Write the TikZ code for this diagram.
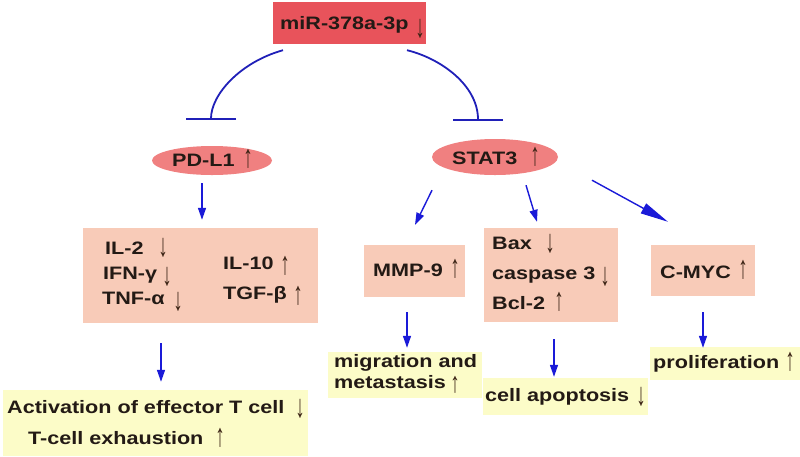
\documentclass[tikz,border=0pt]{standalone}
\usepackage{fontspec}
\setmainfont{Liberation Sans}[FakeStretch=1.2]
\newfontfamily\arrfont{Liberation Sans}
\usetikzlibrary{arrows.meta,shapes.geometric}
\definecolor{mirred}{HTML}{E8535B}
\definecolor{ellred}{HTML}{F08080}
\definecolor{peach}{HTML}{F8CBB8}
\definecolor{paleyel}{HTML}{FCFCC8}
\definecolor{arrblue}{HTML}{1A1AD8}
\definecolor{inhblue}{HTML}{2020B8}
\definecolor{txt}{HTML}{231A15}
\definecolor{glyph}{HTML}{3B2314}
\newcommand{\dn}{\scalebox{1.05}[1.8]{\arrfont\bfseries ↓}}
\newcommand{\up}{\scalebox{1.05}[1.8]{\arrfont\bfseries ↑}}
\newcommand{\upsm}{\scalebox{1.05}[1.6]{\arrfont\bfseries ↑}}
\tikzset{
  box/.style={rectangle, inner sep=0pt, draw=none},
  pinkbox/.style={box, fill=peach},
  yelbox/.style={box, fill=paleyel},
  oval/.style={ellipse, fill=ellred, inner sep=0pt, draw=none},
  lbl/.style={anchor=base west, inner sep=0pt, text=txt},
  updn/.style={anchor=center, inner sep=0pt, text=glyph},
  arr/.style={draw=arrblue, line width=1.4pt, -{Triangle[length=12pt,width=8pt]}},
  inh/.style={draw=inhblue, line width=1.8pt, -{Bar[width=50pt]}},
}
\begin{document}
\begin{tikzpicture}[x=1pt,y=-1pt,font=\fontsize{18}{20}\selectfont\bfseries]
\useasboundingbox (0,0) rectangle (800,456);
% top
\node[box, fill=mirred, minimum width=153pt, minimum height=42pt] (mir) at (349.5,23) {};
\node[lbl] (mirt) at (280,29.5) {miR-378a-3p};
\node[updn] (mira) at (420,28.5) {\dn};
% ellipses
\node[oval, minimum width=120pt, minimum height=29pt] (pdl1) at (212,160.5) {};
\node[lbl] (pdl1t) at (172,166) {PD-L1};
\node[updn] (pdl1a) at (248,159) {\up};
\node[oval, minimum width=126pt, minimum height=36pt] (stat) at (495,157) {};
\node[lbl] (statt) at (452,164) {STAT3};
\node[updn] (stata) at (535,157) {\up};
% pink boxes
\node[pinkbox, minimum width=235pt, minimum height=95pt] (cyt) at (200.5,275.5) {};
\node[lbl] (il2) at (105,254.5) {IL-2};
\node[updn] (il2a) at (163,248) {\dn};
\node[lbl] (ifn) at (103,279.5) {IFN-γ};
\node[updn] (ifna) at (167,277) {\dn};
\node[lbl] (tnf) at (102,304.5) {TNF-α};
\node[updn] (tnfa) at (178,302) {\dn};
\node[lbl] (il10) at (223,269.5) {IL-10};
\node[updn] (il10a) at (285,266) {\up};
\node[lbl] (tgf) at (223,299.5) {TGF-β};
\node[updn] (tgfa) at (298,296) {\up};

\node[pinkbox, minimum width=101pt, minimum height=52pt] (mmp) at (414.5,271) {};
\node[lbl] (mmpt) at (373,276.5) {MMP-9};
\node[updn] (mmpa) at (455,269) {\up};

\node[pinkbox, minimum width=134pt, minimum height=94pt] (bax) at (551,275) {};
\node[lbl] (baxt) at (492,249.5) {Bax};
\node[updn] (baxa) at (550,244) {\dn};
\node[lbl] (cas) at (492,279.5) {caspase 3};
\node[updn] (casa) at (605,277) {\dn};
\node[lbl] (bcl) at (492,309.5) {Bcl-2};
\node[updn] (bcla) at (559,302) {\up};

\node[pinkbox, minimum width=104pt, minimum height=51pt] (cmyc) at (703,270.5) {};
\node[lbl] (cmyct) at (660,278.5) {C-MYC};
\node[updn] (cmyca) at (743,270) {\up};
% yellow boxes
\node[yelbox, minimum width=154pt, minimum height=46pt] (mig) at (405,375) {};
\node[lbl] (migt1) at (334,367.5) {migration and};
\node[lbl] (migt2) at (334,388.5) {metastasis};
\node[updn] (miga) at (455,385) {\upsm};

\node[yelbox, minimum width=165pt, minimum height=37pt] (apop) at (565.5,396.5) {};
\node[lbl] (apopt) at (485,401.5) {cell apoptosis};
\node[updn] (apopa) at (641,397) {\dn};

\node[yelbox, minimum width=150pt, minimum height=33pt] (prol) at (725,363.5) {};
\node[lbl] (prolt) at (653,368.5) {proliferation};
\node[updn] (prola) at (790,362) {\up};

\node[yelbox, minimum width=305pt, minimum height=66pt] (act) at (155.5,423) {};
\node[lbl] (actt1) at (7,413.5) {Activation of effector T cell};
\node[updn] (acta1) at (300,409) {\dn};
\node[lbl] (actt2) at (28,444.5) {T-cell exhaustion};
\node[updn] (acta2) at (220,438) {\up};
% inhibition arcs
\draw[inh] ([shift={(-66.5,6)}]mir.south) .. controls +(-43,12) and +(0,-25) .. ([shift={(-1,-26)}]pdl1.north);
\draw[inh] ([shift={(57.5,6)}]mir.south) .. controls +(33,8) and +(0,-36) .. ([shift={(-17,-18)}]stat.north);
% activation arrows
\draw[arr] ([shift={(-10,8)}]pdl1.south) -- ([shift={(1.5,-8)}]cyt.north);
\draw[arr] ([shift={(-63,15)}]stat.south) -- ([shift={(0.5,-20)}]mmp.north);
\draw[arr] ([shift={(31,10)}]stat.south) -- ([shift={(-14,-6)}]bax.north);
\draw[draw=arrblue, line width=1.4pt, -{Triangle[length=28pt,width=11pt]}] ([shift={(97,5)}]stat.south) -- ([shift={(-35,-23)}]cmyc.north);
\draw[arr] ([shift={(-39.5,20)}]cyt.south) -- ([shift={(5.5,-8)}]act.north);
\draw[arr] ([shift={(-7.5,15)}]mmp.south) -- ([shift={(2,-4)}]mig.north);
\draw[arr] ([shift={(3,17)}]bax.south) -- ([shift={(-11.5,-1)}]apop.north);
\draw[arr] ([shift={(0,16)}]cmyc.south) -- ([shift={(-22,1)}]prol.north);
\end{tikzpicture}
\end{document}
